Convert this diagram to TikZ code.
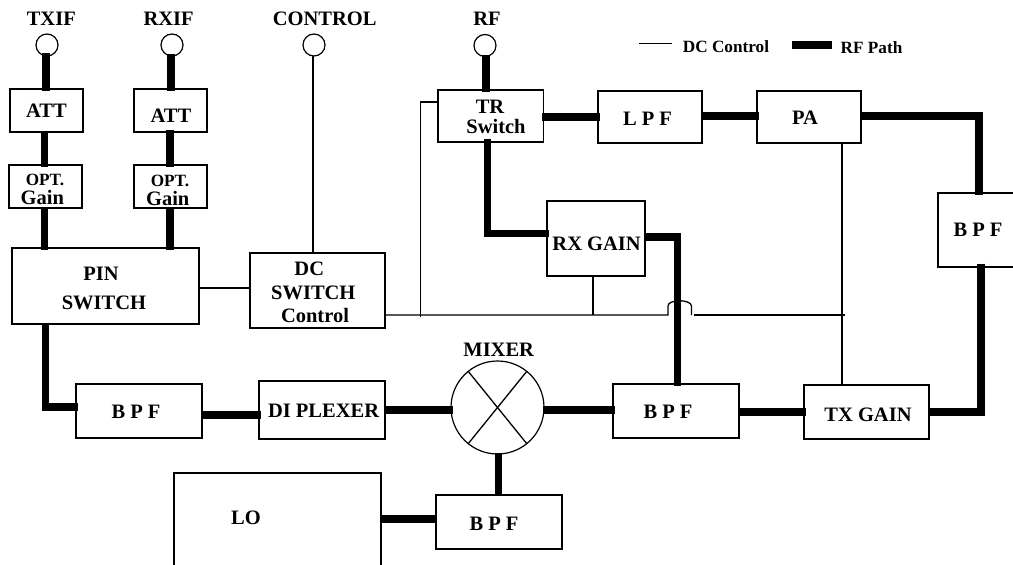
\documentclass[tikz,border=0pt]{standalone}
\usepackage{fontspec}
\setmainfont{Liberation Serif}
\tikzset{
  x=1pt,y=-1pt,
  box/.style={draw=black,line width=1.4pt,fill=white,rectangle,inner sep=0pt,outer sep=0pt},
  port/.style={draw=black,line width=1.2pt,fill=white,circle,inner sep=0pt,outer sep=0pt,minimum size=22pt},
  rfline/.style={line width=7.2pt,line cap=butt,line join=miter,shorten <=-1.5pt,shorten >=-1.5pt},
  dcline/.style={line width=1.3pt,line join=miter},
  big/.style={font=\bfseries\fontsize{20.5}{22}\selectfont,anchor=base,inner sep=0pt,outer sep=0pt},
  small/.style={font=\bfseries\fontsize{17.2}{19}\selectfont,anchor=base,inner sep=0pt,outer sep=0pt},
}
\newcommand\bx[5]{\node[box,minimum width={(#4-#2)*1pt},minimum height={(#5-#3)*1pt}] (#1) at ({(#2+#4)/2},{(#3+#5)/2}) {};}
\newcommand\lb[4]{\node[big] (#1) at (#2,#3) {#4};}
\newcommand\ls[4]{\node[small] (#1) at (#2,#3) {#4};}
\begin{document}
\begin{tikzpicture}
\useasboundingbox (0,0) rectangle (1013,565);
\clip (0,0) rectangle (1013,565);
\fill[white] (0,0) rectangle (1013,565);

\bx{att1}{10}{89}{83}{132}
\bx{att2}{134}{89}{207}{132}
\bx{opt1}{9}{165}{82}{208}
\bx{opt2}{134}{165}{207}{208}
\bx{pin}{12}{248}{199}{324}
\bx{dc}{250}{253}{385}{328}
\bx{tr}{438}{90}{543.5}{142}
\bx{lpf}{598}{91}{702}{143}
\bx{pa}{757}{91}{861}{143}
\bx{rxg}{547}{201}{645}{276}
\bx{bpfr}{938}{193}{1040}{267}
\bx{bpfa}{76}{384}{202}{438}
\bx{dip}{259}{381}{385}{439}
\bx{bpfb}{613}{384}{739}{438}
\bx{txg}{804}{385}{929}{439}
\bx{lo}{174}{473}{381}{600}
\bx{bpfc}{436}{495}{562}{549}
\node[port,minimum size=93pt] (mix) at (497.5,407.5) {};
\draw[dcline] (mix.129) -- (mix.309);
\draw[dcline] (mix.51) -- (mix.231);
\node[port] (ptx) at (47,45) {};
\node[port] (prx) at (172,45) {};
\node[port] (pct) at (314,45) {};
\node[port] (prf) at (485,45.5) {};

% DC control
\coordinate (bus1) at (668,315);
\coordinate (bus2) at (694,315);
\coordinate (busend) at (845,315);
\draw[dcline] (313,0 |- pct.south) -- (313,0 |- dc.north);
\draw[dcline] (pin.east |- 0,288) -- (dc.west |- 0,288);
\draw[dcline] (dc.east |- bus1) -- (bus1) -- (668,306) .. controls (668,299) and (691,299) .. (691.5,306) -- (691.5,315);
\draw[dcline] (bus2) -- (busend);
\draw[dcline] (420.5,317) -- (420.5,102) -- (tr.west |- 0,102);
\draw[dcline] (593,0 |- rxg.south) -- (593,0 |- bus1);
\draw[dcline] (842,0 |- pa.south) -- (842,0 |- txg.north);

% RF path
\draw[rfline] (46,54) -- (46,0 |- att1.north);
\draw[rfline] (44.5,0 |- att1.south) -- (44.5,0 |- opt1.north);
\draw[rfline] (44.5,0 |- opt1.south) -- (44.5,0 |- pin.north);
\draw[rfline] (171,55) -- (171,0 |- att2.north);
\draw[rfline] (170,131) -- (170,0 |- opt2.north);
\draw[rfline] (170,0 |- opt2.south) -- (170,0 |- pin.north);
\draw[rfline] (486,56) -- (486,0 |- tr.north);
\draw[rfline] (tr.east |- 0,117) -- (lpf.west |- 0,117);
\draw[rfline] (lpf.east |- 0,116) -- (pa.west |- 0,116);
\draw[rfline] (pa.east |- 0,116) -- (979,116) -- (979,0 |- bpfr.north);
\draw[rfline] (487.5,140) -- (487.5,233.5) -- (rxg.west |- 0,233.5);
\draw[rfline] (rxg.east |- 0,237) -- (677.5,237) -- (677.5,0 |- bpfb.north);
\draw[rfline] (981,265) -- (981,412) -- (txg.east |- 0,412);
\draw[rfline] (45.5,0 |- pin.south) -- (45.5,407) -- (bpfa.west |- 0,407);
\draw[rfline] (bpfa.east |- 0,415) -- (dip.west |- 0,415);
\draw[rfline] (dip.east |- 0,410) -- (mix.west |- 0,410);
\draw[rfline] (mix.east |- 0,410) -- (bpfb.west |- 0,410);
\draw[rfline] (bpfb.east |- 0,412) -- (txg.west |- 0,412);
\draw[rfline] (498.5,0 |- mix.south) -- (498.5,493);
\draw[rfline] (lo.east |- 0,519) -- (433,519);

% legend
\coordinate (ka) at (639,43.7);
\coordinate (kb) at (672,43.7);
\coordinate (kc) at (792,45);
\coordinate (kd) at (832,45);
\draw[dcline] (ka) -- (kb);
\draw[line width=7.2pt] (kc) -- (kd);

% labels
\lb{ltx}{51.3}{25}{TXIF}
\lb{lrx}{168.7}{25}{RXIF}
\lb{lct}{324.7}{25}{CONTROL}
\lb{lrf}{487}{25}{RF}
\lb{latta}{46.5}{117.7}{ATT}
\lb{lattb}{171}{122.7}{ATT}
\ls{lopa}{45}{185}{OPT.}
\lb{lgna}{42.3}{204}{Gain}
\ls{lopb}{170}{186}{OPT.}
\lb{lgnb}{167.7}{205.7}{Gain}
\lb{lpin}{101}{280}{PIN}
\lb{lsw}{104}{309}{SWITCH}
\lb{ldc}{309.3}{275}{DC}
\lb{ldsw}{313.3}{299.3}{SWITCH}
\lb{lctl}{315}{322.7}{Control}
\lb{ltr}{490}{113}{TR}
\lb{ltrs}{496}{133}{Switch}
\lb{llpf}{647.5}{125}{L P F}
\lb{lpa}{805}{124}{PA}
\lb{lrxg}{596.6}{250}{RX GAIN}
\lb{lbpr}{978}{236}{B P F}
\lb{lbpa}{136}{418}{B P F}
\lb{ldip}{323.6}{417.7}{DI PLEXER}
\lb{lmix}{498.7}{356}{MIXER}
\lb{lbpb}{668}{418.7}{B P F}
\lb{ltxg}{868}{421.7}{TX GAIN}
\lb{llo}{246}{524}{LO}
\lb{lbpc}{494}{530}{B P F}
\ls{lkdc}{726}{52}{DC Control}
\ls{lkrf}{871.5}{53}{RF Path}
\end{tikzpicture}
\end{document}
